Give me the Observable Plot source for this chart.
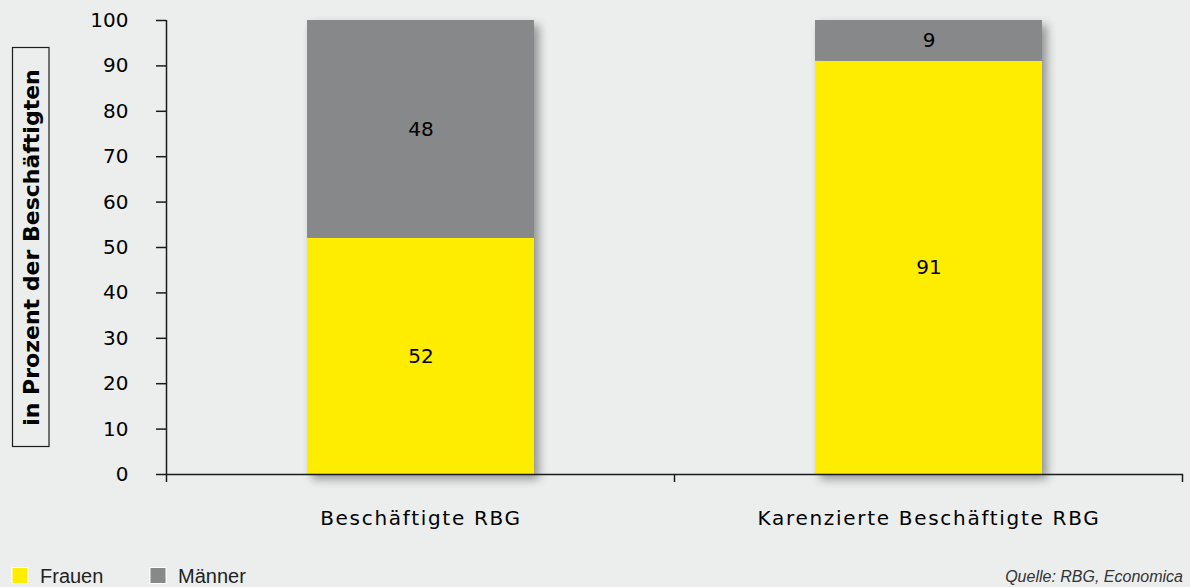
<!DOCTYPE html>
<html>
<head>
<meta charset="utf-8">
<script src="https://cdn.jsdelivr.net/npm/d3@7"></script>
<script src="https://cdn.jsdelivr.net/npm/@observablehq/plot@0.6"></script>
<style>
  html, body { margin: 0; padding: 0; background: #ECEEED; }
  #wrap { position: relative; width: 1190px; height: 587px; overflow: hidden; }
  #chart svg { display: block; }
  #legend { position: absolute; left: 0; top: 550px; }
</style>
</head>
<body>
<div id="wrap">
  <div id="chart"></div>
  <svg id="legend" width="1190" height="37"></svg>
</div>
<script>
const categories = ["Beschäftigte RBG", "Karenzierte Beschäftigte RBG"];
const groups = ["Frauen", "Männer"];
const colors = ["#FFED00", "#878889"];
const frauen = [52, 91];
const maenner = [48, 9];
const yTicks = [0, 10, 20, 30, 40, 50, 60, 70, 80, 90, 100];
const yLabel = "in Prozent der Beschäftigten";
const source = "Quelle: RBG, Economica";

const data = categories.flatMap((c, i) => [
  {cat: c, sex: "Frauen", value: frauen[i]},
  {cat: c, sex: "Männer", value: maenner[i]}
]);

const plot = Plot.plot({
  width: 1190,
  height: 550,
  marginLeft: 166,
  marginRight: 7,
  marginTop: 20,
  marginBottom: 76,
  style: {background: "transparent", fontFamily: "'DejaVu Sans'", fontSize: "20px", color: "#000"},
  x: {domain: categories, paddingInner: 0.553, paddingOuter: 0.2765},
  y: {domain: [0, 100]},
  color: {domain: groups, range: colors},
  marks: [
    Plot.barY(data, {x: "cat", y: "value", fill: "sex"}),
    Plot.text(data, Plot.stackY({x: "cat", y: "value", z: "sex", text: "value", fill: "#000", fontSize: 20})),
    Plot.ruleY([0], {stroke: "#1b1b1b", strokeWidth: 1.5}),
    Plot.axisY({ticks: yTicks, tickSize: 10, tickPadding: 28, label: null, stroke: "#1b1b1b", strokeWidth: 1.5, fill: "#000", fontSize: 20}),
    Plot.axisX({tickSize: 0, tickPadding: 36, label: null, fill: "#000", fontSize: 20}),
    Plot.text([yLabel], {frameAnchor: "left", dx: -135, rotate: -90, textAnchor: "middle", fontWeight: "bold", fontSize: 22, fill: "#000", text: d => d})
  ]
});
document.getElementById("chart").appendChild(plot);

const svg = d3.select(plot);
// drop shadow on bars
svg.selectAll("g[aria-label='bar']").style("filter", "drop-shadow(5px 5px 5px rgba(0,0,0,0.38))");
// letter spacing for x labels
svg.selectAll("g[aria-label='x-axis tick label'] text").style("letter-spacing", "1.7px");

// axis line and band-boundary ticks using the plot's scales
const xs = plot.scale("x");
const ys = plot.scale("y");
const y0 = ys.apply(0), y100 = ys.apply(100);
const bw = xs.bandwidth;
const step = xs.step ?? (bw / (1 - 0.553));
const bounds = [];
categories.forEach((c, i) => {
  const mid = xs.apply(c) + bw / 2;
  if (i === 0) bounds.push(mid - step / 2);
  bounds.push(mid + step / 2);
});
const g = svg.append("g").attr("stroke", "#1b1b1b").attr("stroke-width", 1.5);
g.append("line").attr("x1", bounds[0]).attr("x2", bounds[0]).attr("y1", y100).attr("y2", y0);
bounds.forEach(b => g.append("line").attr("x1", b).attr("x2", b).attr("y1", y0).attr("y2", y0 + 8));
// box around y label
svg.append("rect").attr("x", 12.5).attr("y", 47.5).attr("width", 36.5).attr("height", 399)
  .attr("fill", "none").attr("stroke", "#1b1b1b").attr("stroke-width", 1.2);

// legend and source below the plot
const leg = d3.select("#legend");
const items = [{label: groups[0], color: colors[0], x: 12, tx: 40}, {label: groups[1], color: colors[1], x: 150, tx: 178}];
items.forEach(it => {
  leg.append("rect").attr("x", it.x).attr("y", 17.5).attr("width", 16).attr("height", 16)
    .attr("fill", it.color).attr("stroke", "#fff").attr("stroke-width", 1);
  leg.append("text").attr("x", it.tx).attr("y", 33).text(it.label)
    .attr("font-family", "'Liberation Sans', Arial, sans-serif").attr("font-size", 20).attr("fill", "#222");
});
leg.append("text").attr("x", 1183).attr("y", 32).attr("text-anchor", "end").text(source)
  .attr("font-family", "'Liberation Sans', Arial, sans-serif").attr("font-size", 16)
  .attr("font-style", "italic").attr("fill", "#333");
</script>
</body>
</html>
